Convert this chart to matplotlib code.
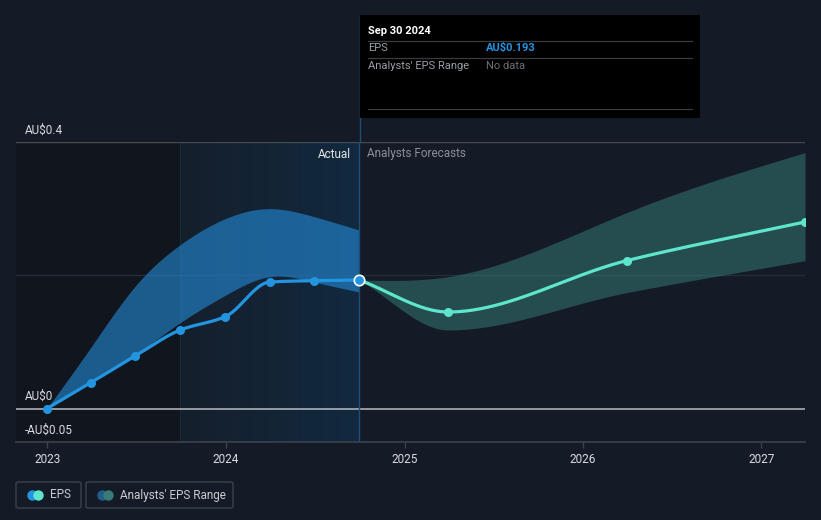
import numpy as np
import pandas as pd
import matplotlib
matplotlib.use("Agg")
import matplotlib.pyplot as plt
import matplotlib.dates as mdates
import matplotlib.transforms as mtransforms
from matplotlib.patches import FancyBboxPatch, Rectangle
from matplotlib.lines import Line2D
from matplotlib.colors import LinearSegmentedColormap

plt.rcParams['font.family'] = ['Roboto', 'DejaVu Sans']

# ---------------- data ----------------
actual_dates = ["2022-12-31", "2023-03-31", "2023-06-30", "2023-09-30", "2023-12-31",
                "2024-03-31", "2024-06-30", "2024-09-30"]
actual_eps = [0.000, 0.039, 0.079, 0.118, 0.138, 0.190, 0.192, 0.193]

past_range_dates = ["2022-12-31", "2023-03-31", "2023-06-30", "2023-09-30", "2023-12-31",
                    "2024-03-31", "2024-06-30", "2024-09-30"]
past_range_low = [0.000, 0.041, 0.081, 0.129, 0.170, 0.198, 0.190, 0.175]
past_range_high = [0.000, 0.092, 0.184, 0.246, 0.285, 0.300, 0.288, 0.268]

forecast_dates = ["2024-09-30", "2025-03-31", "2026-03-31", "2027-03-31"]
forecast_eps = [0.193, 0.145, 0.222, 0.280]
forecast_low = [0.193, 0.118, 0.174, 0.222]
forecast_high = [0.193, 0.198, 0.294, 0.384]

highlight_start = "2023-09-30"
x_start = "2022-10-29"

year_ticks = ["2023-01-01", "2024-01-01", "2025-01-01", "2026-01-01", "2027-01-01"]
year_labels = ["2023", "2024", "2025", "2026", "2027"]

y_ticks = [0.4, 0.0, -0.05]
y_labels = ["AU$0.4", "AU$0", "-AU$0.05"]
y_grid = [0.4, 0.2]

tooltip_date = "Sep 30 2024"
tooltip_rows = [("EPS", "AU$%.3f" % actual_eps[-1]), ("Analysts' EPS Range", "No data")]

# ---------------- helpers ----------------
def dnum(lst):
    return mdates.date2num(pd.to_datetime(lst).to_pydatetime())

def pchip(x, y, n=400):
    x = np.asarray(x, float); y = np.asarray(y, float)
    h = np.diff(x); d = np.diff(y) / h
    m = np.zeros(len(x))
    m[0] = d[0]; m[-1] = d[-1]
    for k in range(1, len(x) - 1):
        if d[k - 1] * d[k] <= 0:
            m[k] = 0
        else:
            w1 = 2 * h[k] + h[k - 1]; w2 = h[k] + 2 * h[k - 1]
            m[k] = (w1 + w2) / (w1 / d[k - 1] + w2 / d[k])
    xs = np.linspace(x[0], x[-1], n)
    idx = np.clip(np.searchsorted(x, xs) - 1, 0, len(x) - 2)
    t = (xs - x[idx]) / h[idx]
    h00 = 2 * t**3 - 3 * t**2 + 1; h10 = t**3 - 2 * t**2 + t
    h01 = -2 * t**3 + 3 * t**2; h11 = t**3 - t**2
    ys = h00 * y[idx] + h10 * h[idx] * m[idx] + h01 * y[idx + 1] + h11 * h[idx] * m[idx + 1]
    return xs, ys

def natural(x, y, n=400):
    x = np.asarray(x, float); y = np.asarray(y, float)
    N = len(x); h = np.diff(x)
    A = np.zeros((N, N)); b = np.zeros(N)
    A[0, 0] = 1; A[-1, -1] = 1
    for i in range(1, N - 1):
        A[i, i - 1] = h[i - 1]; A[i, i] = 2 * (h[i - 1] + h[i]); A[i, i + 1] = h[i]
        b[i] = 3 * ((y[i + 1] - y[i]) / h[i] - (y[i] - y[i - 1]) / h[i - 1])
    c = np.linalg.solve(A, b)
    bb = (y[1:] - y[:-1]) / h - h * (2 * c[:-1] + c[1:]) / 3
    dd = (c[1:] - c[:-1]) / (3 * h)
    xs = np.linspace(x[0], x[-1], n)
    idx = np.clip(np.searchsorted(x, xs) - 1, 0, N - 2)
    t = xs - x[idx]
    ys = y[idx] + bb[idx] * t + c[idx] * t**2 + dd[idx] * t**3
    return xs, ys

# ---------------- figure ----------------
W, H = 821, 520
BG = '#151b26'
fig = plt.figure(figsize=(W / 100, H / 100), dpi=100, facecolor=BG)
ax = fig.add_axes([16 / W, 1 - 442 / H, (805 - 16) / W, (442 - 142) / H])
ax.set_facecolor(BG)

ax_x = dnum(actual_dates); px = dnum(past_range_dates); fx = dnum(forecast_dates)
hl0 = dnum([highlight_start])[0]
xmin = dnum([x_start])[0]; xmax = fx[-1]
ax.set_xlim(xmin, xmax)
ax.set_ylim(-0.05, 0.4)

# dark region before highlight
ax.axvspan(xmin, hl0, color='#11151d', zorder=0, lw=0)
# highlight gradient region
grad = np.linspace(0, 1, 512).reshape(1, -1)
cmap = LinearSegmentedColormap.from_list('hl', ['#151f2c', '#12293f'], N=512)
ax.imshow(grad, extent=[hl0, ax_x[-1], -0.05, 0.4], aspect='auto', cmap=cmap, zorder=0.5,
          interpolation='bilinear')
ax.axvline(hl0, color='#1a2a3b', lw=0.8, zorder=0.6)

# grid lines
ax.axhline(y_grid[0], color='#454a53', lw=1, zorder=1)
ax.axhline(y_grid[1], color='#262c37', lw=1, zorder=1)
ax.axhline(0, color='#b8bcc2', lw=1.1, zorder=3)

# past range band
bx, bl = natural(px, past_range_low)
_, bh = natural(px, past_range_high)
ax.fill_between(bx, bl, bh, color='#2490e0', alpha=0.58, lw=0, zorder=2)

# forecast band
fbx, fbl = pchip(fx, forecast_low)
_, fbh = natural(fx, forecast_high)
ax.fill_between(fbx, fbl, fbh, color='#3a8a80', alpha=0.45, lw=0, zorder=2)

# actual line
lx, ly = pchip(ax_x, actual_eps)
ax.plot(lx, ly, color='#2394e0', lw=2.3, zorder=4, solid_capstyle='round')
ax.plot(ax_x[:-1], actual_eps[:-1], 'o', color='#2394e0', ms=6.5, zorder=5, mec='none')

# forecast line
flx, fly = pchip(fx, forecast_eps)
ax.plot(flx, fly, color='#5ee6cc', lw=2.3, zorder=4, solid_capstyle='round')
ax.plot(fx[1:], forecast_eps[1:], 'o', color='#5ee6cc', ms=6.5, zorder=5, mec='none')

# highlighted last actual point
ax.plot([ax_x[-1]], [actual_eps[-1]], 'o', color='#2394e0', ms=7.5, mec='white', mew=1.2, zorder=6)

# vertical divider (extends up to tooltip)
ax.axvline(ax_x[-1], color='#1f4e75', lw=1, zorder=3)
fig.add_artist(Line2D([360 / W, 360 / W], [1 - 142 / H, 1 - 15 / H], color='#1f4e75', lw=1))

# spines / ticks
for s in ['top', 'right', 'left']:
    ax.spines[s].set_visible(False)
ax.spines['bottom'].set_color('#3c424c')
ax.spines['bottom'].set_linewidth(1.2)
ax.set_xticks(dnum(year_ticks))
ax.set_xticklabels(year_labels)
ax.tick_params(axis='x', colors='#3c424c', length=4, width=1, labelcolor='#d8dbe0',
               labelsize=8.5, pad=4)
ax.set_yticks([])

# y labels above their lines
off = mtransforms.offset_copy(ax.get_yaxis_transform(), fig=fig, x=0, y=12, units='dots')
for v, lab in zip(y_ticks, y_labels):
    ax.text(9 / (805 - 16), v, lab, transform=off, color='#d8dbe0', fontsize=8.5,
            va='center', ha='left')

# Actual / Forecast labels
ax.text(ax_x[-1], 0.4, 'Actual', transform=mtransforms.offset_copy(ax.transData, fig=fig, x=-8, y=-12, units='dots'),
        ha='right', va='center', color='#e6e6e6', fontsize=8.5)
ax.text(ax_x[-1], 0.4, 'Analysts Forecasts', transform=mtransforms.offset_copy(ax.transData, fig=fig, x=8, y=-12, units='dots'),
        ha='left', va='center', color='#8a8f98', fontsize=8.5)

# ---------------- tooltip ----------------
def fx_(x): return x / W
def fy_(y): return 1 - y / H
fig.add_artist(Rectangle((fx_(360), fy_(118)), (700 - 360) / W, (118 - 15) / H,
                         facecolor='#000000', edgecolor='none', zorder=10))
fig.text(fx_(368), fy_(31), tooltip_date, color='white', fontsize=8, fontweight='bold',
         va='center', ha='left', zorder=11)
for yy in [41, 58, 109]:
    fig.add_artist(Line2D([fx_(368), fx_(692)], [fy_(yy), fy_(yy)], color='#3b3b3b', lw=0.9, zorder=11))
row_y = [48, 66]
for (lab, val), yy, col, w in zip(tooltip_rows, row_y, ['#2394e0', '#6b6f76'], ['bold', 'normal']):
    fig.text(fx_(368), fy_(yy), lab, color='#9a9ea5', fontsize=8, va='center', ha='left', zorder=11)
    fig.text(fx_(486), fy_(yy), val, color=col, fontsize=8, fontweight=w, va='center', ha='left', zorder=11)

# ---------------- legend ----------------
def legend_box(x0, x1, circles, label):
    fig.add_artist(FancyBboxPatch((fx_(x0), fy_(508)), (x1 - x0) / W, (508 - 482) / H,
                                  boxstyle='round,pad=0,rounding_size=0.003',
                                  facecolor='none', edgecolor='#3c424c', lw=1))
    for cx, col in circles:
        fig.add_artist(Line2D([fx_(cx)], [fy_(495)], marker='o', ms=7.5, color=col, mec='none'))
    fig.text(fx_(circles[-1][0] + 12), fy_(495), label, color='#c8ccd2', fontsize=8.5, va='center', ha='left')

legend_box(16, 81, [(32, '#2394e0'), (38, '#5ee6cc')], 'EPS')
legend_box(86, 233, [(102, '#1f5d8a'), (108, '#3a7a78')], "Analysts' EPS Range")

fig.savefig('out.png', dpi=100, facecolor=BG)
